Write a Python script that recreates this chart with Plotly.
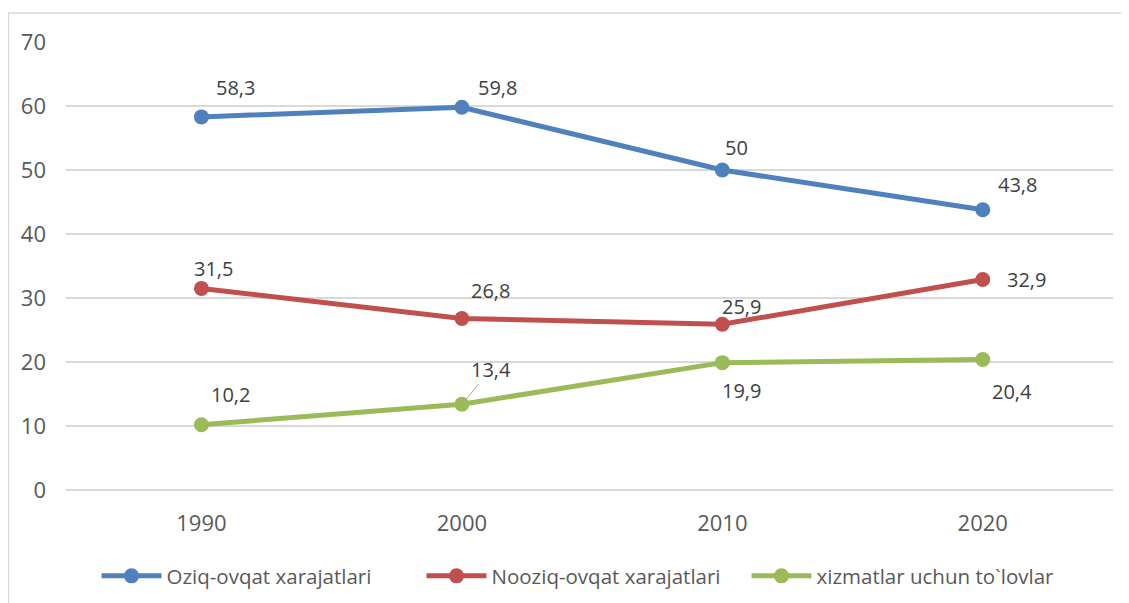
import plotly.graph_objects as go

years = ["1990", "2000", "2010", "2020"]
oziq = [58.3, 59.8, 50, 43.8]
nooziq = [31.5, 26.8, 25.9, 32.9]
xizmat = [10.2, 13.4, 19.9, 20.4]
names = ["Oziq-ovqat xarajatlari", "Nooziq-ovqat xarajatlari", "xizmatlar uchun to`lovlar"]
colors = ["#4F81BD", "#C0504D", "#9BBB59"]
series = [oziq, nooziq, xizmat]

# label offsets (px) per series/point
offsets = [
    [(34, 29), (36, 20), (14, 23), (35, 25)],
    [(12, 20), (29, 28), (19, 18), (44, 0)],
    [(29, 30), (0, 0), (19, -28), (29, -32)],
]

FONT = "Open Sans, Noto Sans, sans-serif"
fig = go.Figure()
for s, n, c in zip(series, names, colors):
    fig.add_trace(go.Scatter(
        x=years, y=s, name=n, mode="lines+markers",
        line=dict(color=c, width=5),
        marker=dict(color=c, size=15),
    ))

ann = []
for si, s in enumerate(series):
    for pi, v in enumerate(s):
        txt = str(v).replace(".", ",")
        if si == 2 and pi == 1:
            ann.append(dict(x=pi, y=v, xref="x", yref="y", text=txt, showarrow=True,
                            arrowhead=0, arrowwidth=1, arrowcolor="#A6A6A6",
                            ax=29, ay=-35, standoff=3,
                            font=dict(family=FONT, size=20, color="#404040")))
        else:
            dx, dy = offsets[si][pi]
            ann.append(dict(x=pi, y=v, xref="x", yref="y", text=txt, showarrow=False,
                            xshift=dx, yshift=dy,
                            font=dict(family=FONT, size=20, color="#404040")))

W, H, OFF = 1121, 595, 8
fig.update_layout(
    width=W, height=H,
    margin=dict(l=66 - OFF, r=16, t=42 - OFF, b=113),
    plot_bgcolor="white", paper_bgcolor="white",
    font=dict(family=FONT, size=20, color="#595959"),
    annotations=ann,
    showlegend=True,
    legend=dict(orientation="h", xref="container", yref="container",
                x=(584 - OFF) / W, xanchor="center", y=(603 - 576) / H, yanchor="middle",
                font=dict(family=FONT, size=20.5, color="#595959"),
                itemwidth=60, entrywidth=250, entrywidthmode="pixels", tracegroupgap=0),
    shapes=[dict(type="rect", xref="paper", yref="paper",
                 x0=-0.0550, x1=1.0125, y0=-0.27, y1=1.0647,
                 line=dict(color="#D9D9D9", width=1.5), fillcolor="rgba(0,0,0,0)")],
)
fig.update_xaxes(type="category", range=[-0.52, 3.5], showgrid=False, showline=False,
                 ticks="", tickfont=dict(size=22, color="#595959"), zeroline=False,
                 ticklabelstandoff=18)
fig.update_yaxes(range=[0, 70], dtick=10, showgrid=True, gridcolor="#D9D9D9", gridwidth=1.5,
                 zeroline=True, zerolinecolor="#D9D9D9", zerolinewidth=1.5,
                 showline=False, tickfont=dict(size=22, color="#595959"),
                 ticklabelstandoff=19)
fig.write_html("out.html")
